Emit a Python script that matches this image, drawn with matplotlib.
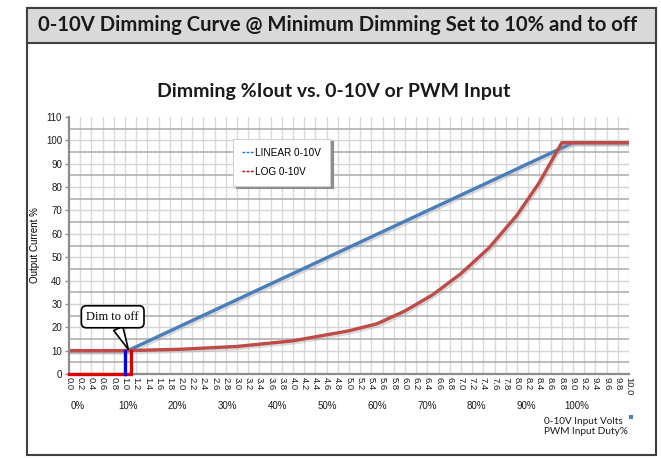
import matplotlib
matplotlib.use("Agg")
import matplotlib.pyplot as plt
import matplotlib.patheffects as pe
from matplotlib.patches import Rectangle
from matplotlib.lines import Line2D
from matplotlib.transforms import blended_transform_factory

# --- data ---
linear_v = [0.0, 1.05, 9.0, 10.0]
linear_i = [10, 10, 99, 99]

log_v = [0.0, 1.0, 2.0, 3.0, 4.0, 5.0, 5.5, 6.0, 6.5, 7.0, 7.5, 8.0, 8.4, 8.8, 10.0]
log_i = [10, 10, 10.6, 11.8, 14.2, 18.5, 21.5, 27, 34, 43, 54, 68, 82, 99, 99]

# "dim to off" legs
off_log_v = [0.0, 1.1, 1.1]
off_log_i = [0, 0, 10]
off_lin_v = [1.0, 1.0]
off_lin_i = [0, 10]

volt_ticks = [round(i * 0.2, 1) for i in range(51)]
pct_labels = ["0%", "10%", "20%", "30%", "40%", "50%", "60%", "70%", "80%", "90%", "100%"]
pct_pos = [0.16 + i * 0.89 for i in range(len(pct_labels))]

BLUE = "#4a7ebb"
RED = "#be4b48"

W, H = 661, 458
fig = plt.figure(figsize=(W / 100, H / 100), dpi=100)
fig.patch.set_facecolor("white")

def fx(px):
    return px / W

def fy(py):
    return 1 - py / H

# outer frame + header band (behind the axes)
fig.patches.append(Rectangle((fx(27), fy(455)), fx(656) - fx(27), fy(8) - fy(455),
                             transform=fig.transFigure, fc="white", ec="#404040", lw=1.5, zorder=-2))
fig.patches.append(Rectangle((fx(27), fy(43)), fx(656) - fx(27), fy(8) - fy(43),
                             transform=fig.transFigure, fc="#d9d9d9", ec="#404040", lw=1.5, zorder=-1))
fig.text(fx(38), fy(25), "0-10V Dimming Curve @ Minimum Dimming Set to 10% and to off",
         family="Lato", weight="bold", fontsize=14.6, va="center", ha="left", color="#1a1a1a")
fig.text(fx(334), fy(91), "Dimming %Iout vs. 0-10V or PWM Input",
         family="Lato", weight="bold", fontsize=14, va="center", ha="center", color="#1a1a1a")

ax = fig.add_axes([fx(69), fy(374), fx(629) - fx(69), fy(117) - fy(374)])
ax.set_zorder(2)
ax.patch.set_alpha(0)
ax.set_xlim(0, 10)
ax.set_ylim(0, 110)

# grid
for v in volt_ticks[1:]:
    ax.axvline(v, color="#d9d9d9", lw=1.0, zorder=1)
for k in range(1, 22):
    y = k * 5
    if k % 2:
        ax.axhline(y, color="#b0b0b0", lw=1.2, zorder=1)
    else:
        ax.axhline(y, color="#d4d4d4", lw=1.0, zorder=1)

shadow = [pe.SimpleLineShadow(offset=(1, -1.5), shadow_color="#999999", alpha=0.35), pe.Normal()]
ax.plot(linear_v, linear_i, color=BLUE, lw=2.4, zorder=3, path_effects=shadow)
ax.plot(log_v, log_i, color=RED, lw=2.4, zorder=4, path_effects=shadow)
ax.plot(off_log_v, off_log_i, color="#e00000", lw=2.4, zorder=7, solid_joinstyle="miter", clip_on=False)
ax.plot(off_lin_v, off_lin_i, color="#0000ff", lw=2.4, zorder=7, clip_on=False)

# spines / ticks
for s in ["top", "right"]:
    ax.spines[s].set_visible(False)
for s in ["left", "bottom"]:
    ax.spines[s].set_color("#8c8c8c")
    ax.spines[s].set_linewidth(1.6)
    ax.spines[s].set_zorder(6)
ax.set_yticks(range(0, 111, 10))
ax.set_xticks(volt_ticks)
ax.set_xticklabels([f"{v:.1f}" for v in volt_ticks], rotation=-90, fontsize=6.8,
                   family="Liberation Sans", color="#1a1a1a")
ax.tick_params(axis="y", labelsize=7, colors="#333333", length=3, width=1, color="#8c8c8c", pad=2)
ax.tick_params(axis="x", length=0, pad=2)
for lbl in ax.get_yticklabels():
    lbl.set_family("Liberation Sans")
    lbl.set_color("#1a1a1a")
ax.set_ylabel("Output Current %", fontsize=7, family="Liberation Sans", labelpad=4)

# percent row under the volt labels
tr = blended_transform_factory(ax.transData, fig.transFigure)
for p, lbl in zip(pct_pos, pct_labels):
    ax.text(p, fy(406), lbl, transform=tr, ha="center", va="center", fontsize=7,
            family="Liberation Sans", color="#1a1a1a", clip_on=False)

fig.text(fx(544), fy(422), "0-10V Input Volts", fontsize=7.2, family="Lato", va="center", color="#1a1a1a")
fig.text(fx(544), fy(432), "PWM Input Duty%", fontsize=7.2, family="Lato", va="center", color="#1a1a1a")
fig.patches.append(Rectangle((fx(629), fy(419)), fx(4), fx(4) * W / H,
                             transform=fig.transFigure, fc="#4a7ebb", ec="none"))

# legend
handles = [Line2D([], [], color="#1f6fd6", lw=1, ls=(0, (2, 1))),
           Line2D([], [], color="#d00000", lw=1, ls=(0, (2, 1)))]
leg = ax.legend(handles, ["LINEAR 0-10V", "LOG 0-10V"], loc="upper left",
                bbox_to_anchor=(0.284, 0.935), handlelength=1.2, handletextpad=0.1,
                frameon=True, fancybox=False, shadow={"color": "#8c8c8c", "alpha": 1.0},
                borderpad=0.9, labelspacing=0.9, edgecolor="#d0d0d0",
                prop={"family": "Liberation Sans", "size": 7.2})
leg.get_frame().set_linewidth(0.8)
leg.set_zorder(8)

# callout
ax.annotate("Dim to off", xy=(1.06, 10.5), xytext=(0.78, 24.5), fontsize=9,
            family="Liberation Serif", ha="center", va="center", zorder=9,
            bbox=dict(boxstyle="round,pad=0.4", fc="white", ec="black", lw=1.2),
            arrowprops=dict(arrowstyle="wedge,tail_width=0.8", fc="white", ec="black", lw=1.2,
                            shrinkA=0, shrinkB=0))

fig.savefig("out.png", dpi=100)
